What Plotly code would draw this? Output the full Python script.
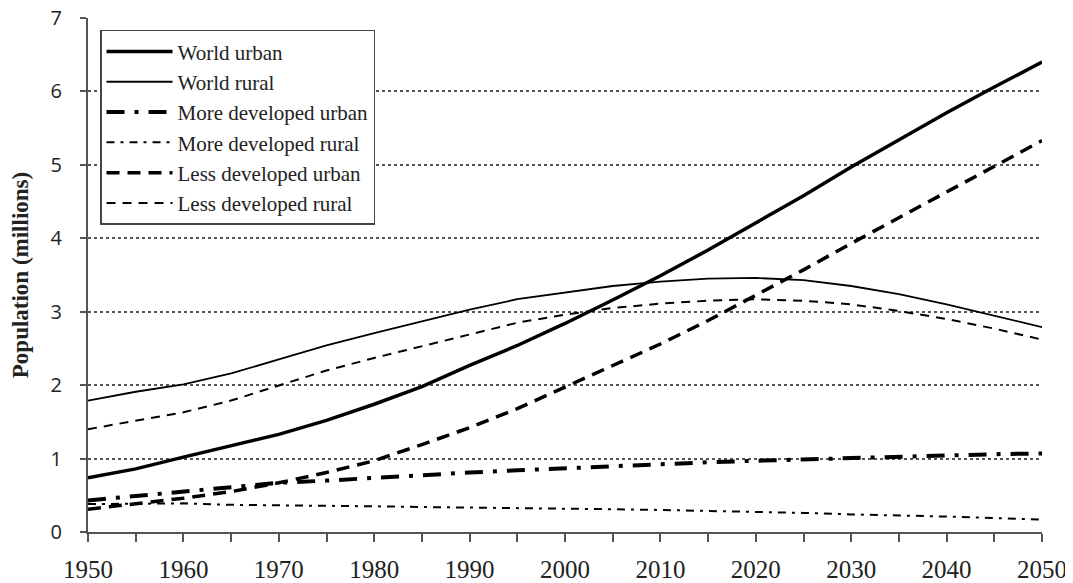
import plotly.graph_objects as go

years = list(range(1950, 2051, 5))
world_urban = [0.74, 0.86, 1.02, 1.17, 1.33, 1.52, 1.74, 1.98, 2.27, 2.54, 2.84, 3.16, 3.49, 3.84, 4.21, 4.58, 4.97, 5.34, 5.71, 6.06, 6.40]
world_rural = [1.79, 1.91, 2.01, 2.16, 2.35, 2.54, 2.71, 2.87, 3.03, 3.17, 3.26, 3.35, 3.41, 3.45, 3.46, 3.43, 3.35, 3.24, 3.10, 2.95, 2.79]
more_dev_urban = [0.43, 0.49, 0.55, 0.61, 0.67, 0.70, 0.74, 0.77, 0.81, 0.84, 0.87, 0.90, 0.92, 0.95, 0.97, 0.99, 1.01, 1.03, 1.04, 1.06, 1.07]
more_dev_rural = [0.38, 0.39, 0.39, 0.37, 0.36, 0.35, 0.35, 0.34, 0.33, 0.33, 0.32, 0.31, 0.30, 0.29, 0.28, 0.26, 0.24, 0.23, 0.21, 0.19, 0.17]
less_dev_urban = [0.31, 0.38, 0.46, 0.55, 0.67, 0.81, 0.97, 1.19, 1.42, 1.68, 1.97, 2.26, 2.56, 2.88, 3.22, 3.57, 3.93, 4.28, 4.63, 4.98, 5.33]
less_dev_rural = [1.40, 1.51, 1.63, 1.79, 1.99, 2.20, 2.37, 2.53, 2.70, 2.85, 2.96, 3.05, 3.11, 3.15, 3.17, 3.15, 3.10, 3.01, 2.90, 2.77, 2.62]

x_tick_vals = list(range(1950, 2051, 10))
y_tick_vals = list(range(0, 8))

series = [
    ("World urban", world_urban, 3.5, "solid"),
    ("World rural", world_rural, 1.8, "solid"),
    ("More developed urban", more_dev_urban, 4, "18px,10px,4px,10px"),
    ("More developed rural", more_dev_rural, 2, "8px,6px,3px,6px"),
    ("Less developed urban", less_dev_urban, 3.5, "13px,8px"),
    ("Less developed rural", less_dev_rural, 2, "9px,7px"),
]

fig = go.Figure()
for i, (name, vals, w, dash) in enumerate(series):
    fig.add_trace(go.Scatter(
        x=years, y=vals, mode="lines", name=name, legendgroup=str(i),
        line=dict(color="black", width=w, dash=dash),
    ))

serif = "Liberation Serif, Times New Roman, serif"
sans = "Open Sans, Liberation Sans, sans-serif"

# the page body adds an 8px offset, so the figure is drawn 8px smaller
fig.update_layout(
    width=1065, height=575,
    margin=dict(l=80, r=31, t=10, b=51),
    plot_bgcolor="white", paper_bgcolor="white",
    font=dict(family=serif, size=20, color="#222"),
    showlegend=True,
    legend=dict(
        x=0.0126, y=0.977, xanchor="left", yanchor="top",
        bgcolor="white", bordercolor="#444", borderwidth=1.5,
        font=dict(family=serif, size=21, color="#222"),
        tracegroupgap=0, itemwidth=66,
    ),
)

fig.update_xaxes(
    range=[1950, 2050], tickvals=x_tick_vals, automargin=False,
    ticklabeloverflow="allow",
    tickfont=dict(family=serif, size=25, color="#222"),
    ticks="outside", ticklen=8, tickwidth=1.5, tickcolor="#555",
    ticklabelstandoff=6,
    minor=dict(dtick=5, tick0=1950, ticks="outside", ticklen=8, tickwidth=1.5, tickcolor="#555", showgrid=False),
    showline=True, linecolor="#555", linewidth=2,
    showgrid=False, zeroline=False,
)
fig.update_yaxes(
    range=[0, 7], tickvals=y_tick_vals, automargin=False,
    ticklabeloverflow="allow",
    tickfont=dict(family=sans, size=20, color="#222"),
    ticks="outside", ticklen=6, tickwidth=1.5, tickcolor="#555",
    ticklabelstandoff=14,
    showline=True, linecolor="#555", linewidth=2,
    showgrid=True, gridcolor="#555", griddash="dot", gridwidth=1.5,
    zeroline=False,
    title=dict(text="<b>Population (millions)</b>", font=dict(family=serif, size=23, color="#222"), standoff=16),
)

fig.write_html("out.html")
